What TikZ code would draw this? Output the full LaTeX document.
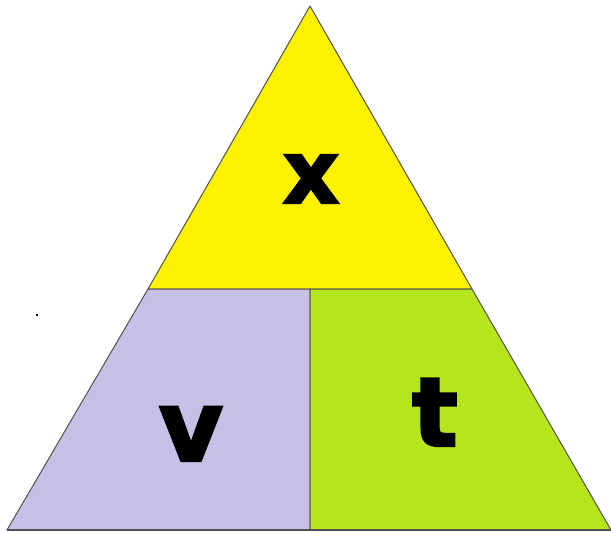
\documentclass[tikz,border=0pt]{standalone}
\usepackage{fontspec}
\setmainfont{DejaVu Sans}
\newfontfamily\heavyfont[FakeBold=2.5]{DejaVu Sans Bold}
\usepackage{xcolor}
\usetikzlibrary{calc}
\definecolor{topclr}{RGB}{255,242,0}
\definecolor{leftclr}{RGB}{200,191,231}
\definecolor{rightclr}{RGB}{181,230,29}
\definecolor{edgeclr}{RGB}{80,80,80}

\begin{document}
\begin{tikzpicture}[x=1pt,y=-1pt,
    part/.style={draw=edgeclr, line width=1pt, line join=round},
    letter/.style={anchor=base, inner sep=0pt}]
    \useasboundingbox (0,0) rectangle (611,533);
    % corners of the triangle
    \coordinate (T) at (310,6);
    \coordinate (L) at (7,530);
    \coordinate (R) at (611,530);
    \coordinate (ML) at (148,289);
    \coordinate (MR) at (472,289);
    \coordinate (MM) at (310,289);
    \coordinate (B) at (310,530);
    \filldraw[part, fill=topclr] (T) -- (MR) -- (ML) -- cycle;
    \filldraw[part, fill=leftclr] (ML) -- (MM) -- (B) -- (L) -- cycle;
    \filldraw[part, fill=rightclr] (MM) -- (MR) -- (R) -- (B) -- cycle;
    \draw[edgeclr, line width=2pt] (L) -- (R);
    \fill (36,314) rectangle +(2,2);
    \node[letter, font=\fontsize{88}{88}\heavyfont] (X) at (311,203) {x};
    \node[letter, font=\fontsize{99}{99}\heavyfont] (V) at (191,461) {v};
    \node[letter, font=\fontsize{96}{96}\heavyfont] (Tt) at (435,446) {t};
  \end{tikzpicture}
\end{document}
